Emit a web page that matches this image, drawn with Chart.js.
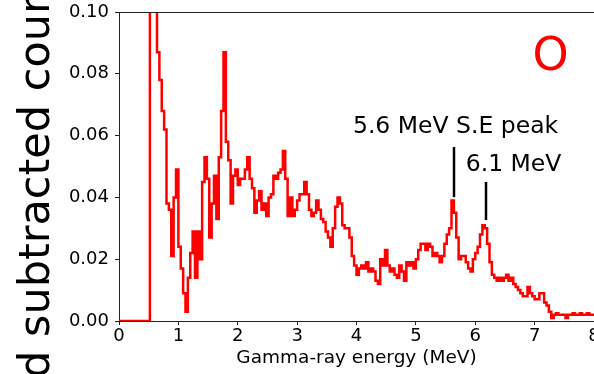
<!DOCTYPE html>
<html>
<head>
<meta charset="utf-8">
<script src="https://cdn.jsdelivr.net/npm/chart.js@4"></script>
<style>
  html, body { margin: 0; padding: 0; background: #fff; overflow: hidden; }
</style>
</head>
<body>
<canvas id="spectrumChart" width="594" height="374"></canvas>
<script>
// Histogram bins (MeV)
const binWidth = 0.04;
const energyMin = 0;
const energyMax = 8;

// Background subtracted counts per bin, 200 bins from 0 to 8 MeV
const counts = [
  0, 0, 0, 0, 0, 0, 0, 0, 0, 0,
  0, 0, 0, 0.30, 0.25, 0.16, 0.087, 0.078, 0.068, 0.062,
  0.038, 0.036, 0.021, 0.040, 0.049, 0.024, 0.017, 0.009, 0.003, 0.014,
  0.022, 0.029, 0.014, 0.029, 0.020, 0.045, 0.053, 0.046, 0.027, 0.038,
  0.047, 0.033, 0.053, 0.068, 0.087, 0.058, 0.052, 0.038, 0.047, 0.049,
  0.044, 0.046, 0.046, 0.049, 0.053, 0.046, 0.043, 0.035, 0.039, 0.042,
  0.036, 0.038, 0.034, 0.040, 0.041, 0.047, 0.046, 0.048, 0.049, 0.055,
  0.046, 0.034, 0.040, 0.034, 0.036, 0.039, 0.041, 0.041, 0.045, 0.041,
  0.036, 0.034, 0.035, 0.039, 0.036, 0.033, 0.032, 0.029, 0.027, 0.024,
  0.030, 0.037, 0.040, 0.038, 0.031, 0.030, 0.030, 0.027, 0.021, 0.018,
  0.015, 0.017, 0.018, 0.017, 0.019, 0.016, 0.017, 0.016, 0.013, 0.012,
  0.020, 0.018, 0.023, 0.018, 0.016, 0.017, 0.015, 0.014, 0.018, 0.016,
  0.013, 0.019, 0.018, 0.019, 0.017, 0.020, 0.023, 0.025, 0.025, 0.023,
  0.025, 0.024, 0.021, 0.022, 0.021, 0.019, 0.021, 0.025, 0.028, 0.030,
  0.039, 0.035, 0.027, 0.020, 0.021, 0.021, 0.019, 0.017, 0.016, 0.020,
  0.022, 0.024, 0.028, 0.031, 0.030, 0.025, 0.019, 0.015, 0.014, 0.013,
  0.014, 0.013, 0.014, 0.015, 0.013, 0.014, 0.012, 0.011, 0.010, 0.009,
  0.008, 0.008, 0.011, 0.009, 0.008, 0.007, 0.007, 0.009, 0.009, 0.006,
  0.005, 0.003, 0.001, 0.002, 0.0025, 0.002, 0.002, 0.002, 0.001, 0.002,
  0.002, 0.0025, 0.002, 0.002, 0.0025, 0.002, 0.002, 0.0025, 0.002, 0.002
];

// Axis ticks
const xTicks = [0, 1, 2, 3, 4, 5, 6, 7, 8];
const yTicks = [0.00, 0.02, 0.04, 0.06, 0.08, 0.10];

// Peak markers: energy of the marker line, line ends, label text and anchor
const peakNotes = [
  { text: '5.6 MeV S.E peak', lineE: 5.64, lineTop: 0.0563, lineBottom: 0.0401, textE: 3.94, textY: 0.0608 },
  { text: '6.1 MeV', lineE: 6.18, lineTop: 0.0450, lineBottom: 0.0327, textE: 5.84, textY: 0.0485 }
];

// points at the left edge of each bin, plus the closing edge
const points = counts.map((c, i) => ({ x: energyMin + i * binWidth, y: c }));
points.push({ x: energyMax, y: counts[counts.length - 1] });

const axisColor = '#222';
const tickFont = { family: 'DejaVu Sans', size: 18, lineHeight: 1 };

// top spine, y title, element label and peak notes
const extras = {
  id: 'extras',
  afterDraw(chart) {
    const { ctx, chartArea, scales } = chart;
    const xs = scales.x, ys = scales.y;
    ctx.save();

    ctx.strokeStyle = axisColor;
    ctx.lineWidth = 1;
    ctx.beginPath();
    ctx.moveTo(chartArea.left, chartArea.top + 0.5);
    ctx.lineTo(chartArea.right, chartArea.top + 0.5);
    ctx.stroke();

    // large rotated y label
    ctx.save();
    ctx.font = '43px "DejaVu Sans"';
    ctx.fillStyle = '#000';
    ctx.textBaseline = 'alphabetic';
    ctx.textAlign = 'left';
    const lead = ctx.measureText('Background ').width;
    ctx.translate(49, 337 + lead);
    ctx.rotate(-Math.PI / 2);
    ctx.fillText('Background subtracted counts', 0, 0);
    ctx.restore();

    // element label
    ctx.font = '46px "DejaVu Sans"';
    ctx.fillStyle = '#ff0000';
    ctx.textAlign = 'center';
    ctx.textBaseline = 'alphabetic';
    ctx.fillText('O', xs.getPixelForValue(7.27), ys.getPixelForValue(0.0812));

    // peak notes
    ctx.font = '23.5px "DejaVu Sans"';
    ctx.fillStyle = '#000';
    ctx.strokeStyle = '#000';
    ctx.lineWidth = 2.5;
    ctx.textAlign = 'left';
    peakNotes.forEach(n => {
      ctx.fillText(n.text, xs.getPixelForValue(n.textE), ys.getPixelForValue(n.textY));
      const px = Math.round(xs.getPixelForValue(n.lineE));
      ctx.beginPath();
      ctx.moveTo(px, ys.getPixelForValue(n.lineTop));
      ctx.lineTo(px, ys.getPixelForValue(n.lineBottom));
      ctx.stroke();
    });

    ctx.restore();
  }
};

const config = {
  type: 'line',
  data: {
    datasets: [{
      data: points,
      stepped: true,
      borderColor: '#ff0000',
      borderWidth: 2.5,
      pointRadius: 0,
      fill: false,
      clip: 0
    }]
  },
  options: {
    responsive: false,
    animation: false,
    events: [],
    layout: { padding: { top: 12, left: 0, right: 0, bottom: 0 } },
    plugins: {
      legend: { display: false },
      tooltip: { enabled: false }
    },
    scales: {
      x: {
        type: 'linear',
        min: energyMin,
        max: energyMax,
        afterFit(scale) {
          scale.height = 53;
          scale.paddingLeft = 0;
          scale.paddingRight = 0;
        },
        afterBuildTicks(scale) { scale.ticks = xTicks.map(v => ({ value: v })); },
        ticks: { color: '#000', font: tickFont, padding: 2, autoSkip: false, maxRotation: 0 },
        grid: { drawOnChartArea: false, drawTicks: true, tickLength: 4, color: axisColor },
        border: { display: true, color: axisColor, width: 1 },
        title: {
          display: true,
          text: 'Gamma-ray energy (MeV)',
          color: '#000',
          font: { family: 'DejaVu Sans', size: 18.5 },
          padding: { top: 0, bottom: 5 }
        }
      },
      y: {
        min: 0,
        max: 0.1,
        afterFit(scale) {
          scale.width = 119;
          scale.paddingTop = 0;
          scale.paddingBottom = 0;
        },
        afterBuildTicks(scale) { scale.ticks = yTicks.map(v => ({ value: v })); },
        ticks: {
          color: '#000',
          font: tickFont,
          padding: 6,
          callback: v => v.toFixed(2)
        },
        grid: { drawOnChartArea: false, drawTicks: true, tickLength: 4, color: axisColor },
        border: { display: true, color: axisColor, width: 1 }
      }
    }
  },
  plugins: [extras]
};

window.onload = () => {
  const ctx = document.getElementById('spectrumChart').getContext('2d');
  new Chart(ctx, config);
};
</script>
</body>
</html>
